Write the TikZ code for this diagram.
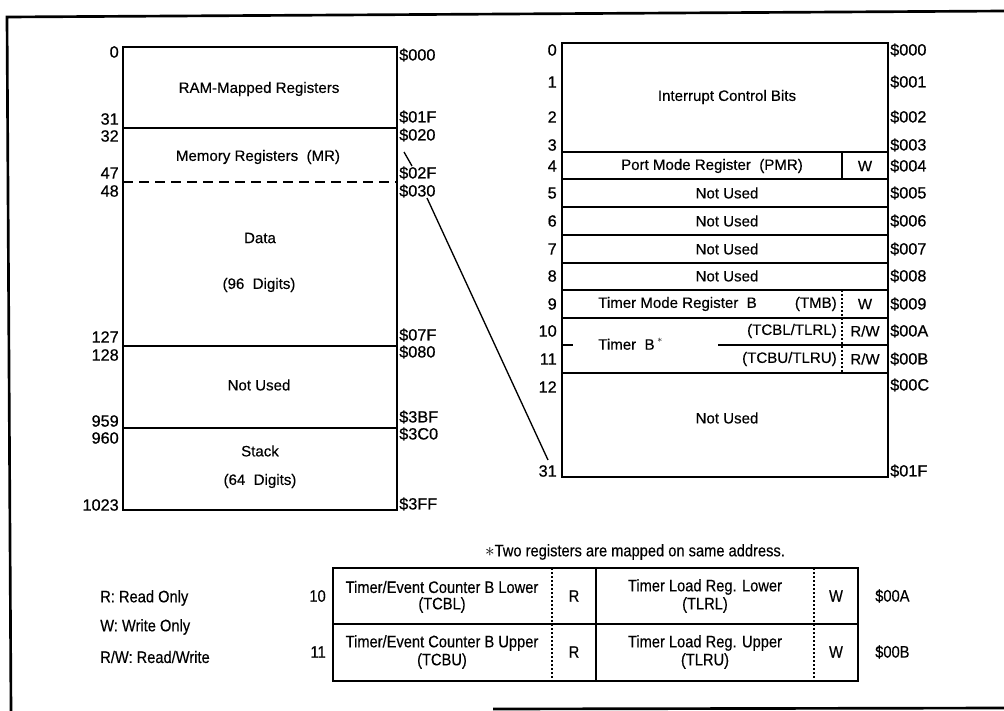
\documentclass[tikz,border=0pt]{standalone}
\usepackage{fontspec}
\setmainfont{Liberation Sans}[FakeBold=0.35]
\newfontfamily\labelfont{Liberation Sans}[FakeBold=0.7]
\newfontfamily\narrowfont{Liberation Sans}[FakeStretch=0.88,FakeBold=0.3]
\begin{document}
\begin{tikzpicture}[x=0.75pt,y=-0.75pt,
  txt/.style={font=\fontsize{11.3}{12}\selectfont, inner sep=0pt},
  lab/.style={font=\labelfont\fontsize{12.2}{13}\selectfont, inner sep=0pt},
  numl/.style={lab, anchor=east},
  addr/.style={lab, anchor=west},
  ntxt/.style={font=\narrowfont\fontsize{12.5}{13}\selectfont, inner sep=0pt},
  frame/.style={line width=2pt},
  boxline/.style={line width=1.3pt},
  rowline/.style={line width=1.1pt},
  dotline/.style={line width=1pt, dash pattern=on 1.5pt off 1.5pt},
  conn/.style={line width=1pt}]
\useasboundingbox (0,0) rectangle (1004,711);
% outer frame
\draw[frame] (1004,11) -- (7,17) -- (11,711);
\draw[frame] (493,709) -- (1004,708);

% ---------- left memory map ----------
\draw[boxline] (123,47) rectangle (397,510);
\draw[rowline] (123,128) -- (397,128);
\draw[rowline, dash pattern=on 7.5pt off 4.5pt] (123,182) -- (397,182);
\draw[rowline] (123,346) -- (397,346);
\draw[rowline] (123,428) -- (397,428);
\node[txt] (ram) at (259,89) {RAM-Mapped Registers};
\node[txt] (mr) at (258,157) {Memory Registers\ \ (MR)};
\node[txt] (data) at (260,238) {Data};
\node[txt] (d96) at (259,285) {(96\ \ Digits)};
\node[txt] (nul) at (259,385) {Not Used};
\node[txt] (stack) at (260,451) {Stack};
\node[txt] (d64) at (260,481) {(64\ \ Digits)};
\foreach \t/\y [count=\i] in {0/52,31/119,32/136,47/173,48/191,127/337,128/355,959/421,960/438,1023/505}
  \node[numl] (ln\i) at (119,\y) {\t};
\foreach \t/\y [count=\i] in {000/55,01F/117,020/135,02F/173,030/191,07F/335,080/352,3BF/417,3C0/434,3FF/504}
  \node[addr] (la\i) at (399,\y) {\$\t};

% ---------- right memory map ----------
\draw[boxline] (562,43) rectangle (888,477);
\foreach \y in {152,179,207,235,263,290,318,373}
  \draw[rowline] (562,\y) -- (888,\y);
\draw[rowline] (718,345) -- (888,345);
\draw[rowline] (562,345) -- (573,345);
\draw[rowline] (842,152) -- (842,179);
\draw[dotline] (842,290) -- (842,373);
\node[txt] (icb) at (727,97) {Interrupt Control Bits};
\node[txt] (pmr) at (712,166) {Port Mode Register\ \ (PMR)};
\node[txt] (pmrw) at (865,166) {W};
\foreach \y [count=\i] in {193,221,249,276}
  \node[txt] (nu\i) at (727,\y) {Not Used};
\node[txt, anchor=west] (tmb) at (598,304) {Timer Mode Register\ \ B};
\node[txt, anchor=east] (tmbs) at (837,304) {(TMB)};
\node[txt] (tmbw) at (865,304) {W};
\node[txt, anchor=east] (tcbl) at (837,331) {(TCBL/TLRL)};
\node[txt] (tcblw) at (865,331) {R/W};
\node[txt, anchor=east] (tcbu) at (837,359) {(TCBU/TLRU)};
\node[txt] (tcbuw) at (865,359) {R/W};
\node[txt, anchor=west] (timb) at (598,344) {Timer\ \ B\,\raisebox{0.9ex}{\fontsize{7}{8}\selectfont$\ast$}};
\node[txt] (nub) at (727,418) {Not Used};
\foreach \t/\y [count=\i] in {0/50,1/82,2/117,3/145,4/166,5/193,6/221,7/249,8/276,9/304,10/331,11/359,12/387,31/471}
  \node[numl] (rn\i) at (557,\y) {\t};
\foreach \t/\y [count=\i] in {000/50,001/82,002/117,003/145,004/166,005/193,006/221,007/249,008/276,009/304,00A/331,00B/359,00C/385,01F/471}
  \node[addr] (ra\i) at (890,\y) {\$\t};

% ---------- connectors ----------
\coordinate (c1a) at (404,152);
\coordinate (c1b) at (412,166);
\coordinate (c2a) at (427,198);
\coordinate (c2b) at (548,460);
\draw[conn] (c1a) -- (c1b);
\draw[conn] (c2a) -- (c2b);

% ---------- bottom table ----------
\node[ntxt] (note) at (635,552) {{\fontsize{15}{15}\selectfont$\ast$}Two registers are mapped on same address.};
\draw[boxline] (333,568) rectangle (858,681);
\draw[rowline] (333,624) -- (858,624);
\draw[rowline] (596,568) -- (596,681);
\draw[dotline] (552,568) -- (552,681);
\draw[dotline] (814,568) -- (814,681);
\node[ntxt] (tcl1) at (442,587) {Timer/Event Counter B Lower};
\node[ntxt] (tcl2) at (442,605) {(TCBL)};
\node[ntxt] (tclr) at (574,596) {R};
\node[ntxt] (tll1) at (705,587) {Timer Load Reg. Lower};
\node[ntxt] (tll2) at (705,605) {(TLRL)};
\node[ntxt] (tllw) at (836,596) {W};
\node[ntxt] (tcu1) at (442,643) {Timer/Event Counter B Upper};
\node[ntxt] (tcu2) at (442,661) {(TCBU)};
\node[ntxt] (tcur) at (574,652) {R};
\node[ntxt] (tlu1) at (705,643) {Timer Load Reg. Upper};
\node[ntxt] (tlu2) at (705,661) {(TLRU)};
\node[ntxt] (tluw) at (836,652) {W};
\node[ntxt, anchor=east] (b10) at (326,596) {10};
\node[ntxt, anchor=east] (b11) at (326,652) {11};
\node[ntxt, anchor=west] (ba10) at (875,596) {\$00A};
\node[ntxt, anchor=west] (ba11) at (875,652) {\$00B};
\node[ntxt, anchor=west] (lg1) at (100,598) {R: Read Only};
\node[ntxt, anchor=west] (lg2) at (100,627) {W: Write Only};
\node[ntxt, anchor=west] (lg3) at (100,657) {R/W: Read/Write};
\end{tikzpicture}
\end{document}
